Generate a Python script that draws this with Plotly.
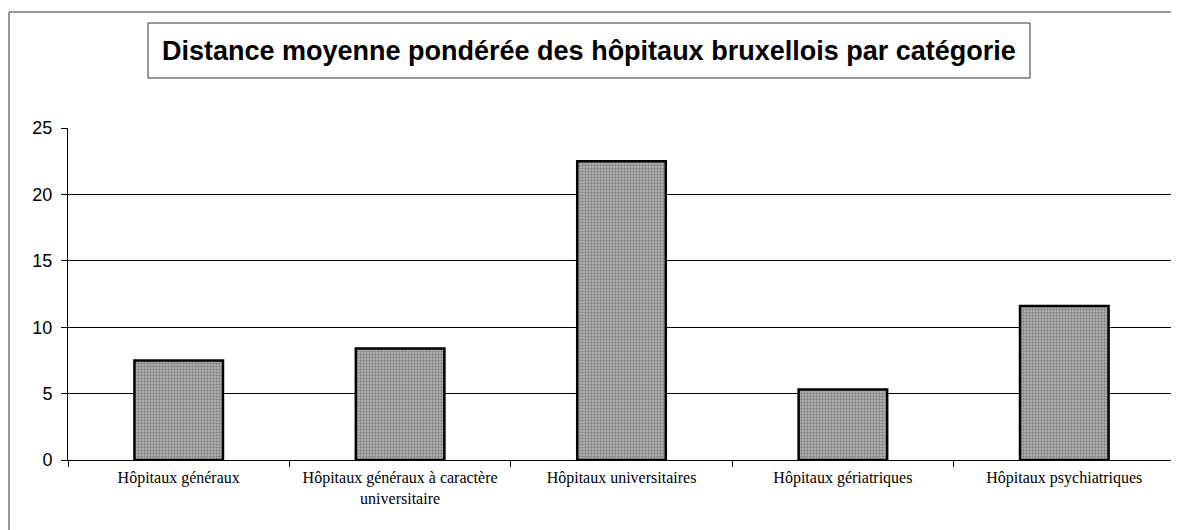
import plotly.graph_objects as go

categories = [
    "Hôpitaux généraux",
    "Hôpitaux généraux à caractère<br>universitaire",
    "Hôpitaux universitaires",
    "Hôpitaux gériatriques",
    "Hôpitaux psychiatriques",
]
values = [7.5, 8.4, 22.5, 5.3, 11.6]
y_ticks = [0, 5, 10, 15, 20, 25]
title_text = "Distance moyenne pondérée des hôpitaux bruxellois par catégorie"

OFF = 8  # default page body margin
W, H = 1179 - OFF, 530 - OFF
L, R, T, B = 60, 4, 120, 70
pw = W - L - R
ph = H - T - B

def px(x):
    # page pixel x -> paper coordinate
    return (x - OFF - L) / pw

def py(y):
    # page pixel y -> paper coordinate
    return (H - B - (y - OFF)) / ph

fig = go.Figure()
fig.add_trace(go.Bar(
    x=categories,
    y=values,
    marker=dict(
        color="#a8a8a8",
        line=dict(color="black", width=2.5),
        pattern=dict(shape=".", fgcolor="#4c4c4c", bgcolor="#b8b8b8", size=3, solidity=0.5),
    ),
    hoverinfo="x+y",
))

fig.update_layout(
    width=W, height=H,
    margin=dict(l=L, r=R, t=T, b=B, pad=0),
    paper_bgcolor="white",
    plot_bgcolor="white",
    bargap=0.6,
    showlegend=False,
    font=dict(family="Liberation Sans, Arial", color="black"),
    xaxis=dict(
        type="category",
        tickson="boundaries",
        ticks="outside",
        ticklen=6,
        tickcolor="black",
        showline=True,
        linecolor="black",
        linewidth=1,
        showgrid=False,
        tickfont=dict(family="Liberation Serif, Times New Roman", size=16, color="black"),
        ticklabelstandoff=3,
        fixedrange=True,
    ),
    yaxis=dict(
        range=[0, 25],
        tickvals=y_ticks,
        ticks="outside",
        ticklen=6,
        tickcolor="black",
        showline=True,
        linecolor="black",
        linewidth=1,
        showgrid=True,
        gridcolor="black",
        gridwidth=1,
        zeroline=False,
        tickfont=dict(family="Liberation Sans, Arial", size=18, color="black"),
        ticklabelstandoff=5,
        fixedrange=True,
    ),
    shapes=[
        # outer chart border
        dict(type="rect", xref="paper", yref="paper",
             x0=px(9), x1=px(1177), y0=py(545), y1=py(12),
             line=dict(color="#333", width=1), fillcolor="rgba(0,0,0,0)", layer="above"),
        # right plot area border
        dict(type="line", xref="paper", yref="paper",
             x0=1, x1=1, y0=0, y1=1, line=dict(color="#444", width=1)),
        # title box
        dict(type="rect", xref="paper", yref="paper",
             x0=px(148), x1=px(1030), y0=py(78), y1=py(23),
             line=dict(color="#333", width=1), fillcolor="white"),
    ],
    annotations=[
        dict(text=f"<b>{title_text}</b>", xref="paper", yref="paper",
             x=px(589), y=py(50.5), xanchor="center", yanchor="middle",
             showarrow=False,
             font=dict(family="Liberation Sans, Arial", size=27, color="black")),
    ],
)

fig.write_html("out.html")
